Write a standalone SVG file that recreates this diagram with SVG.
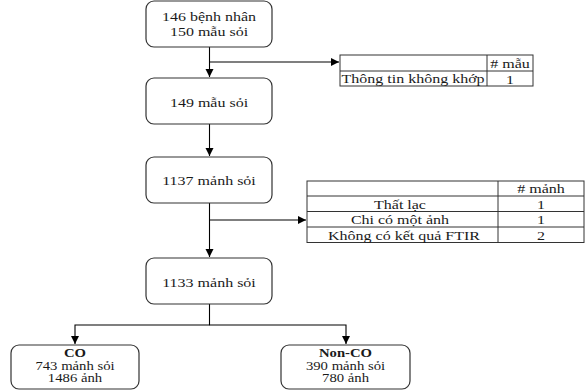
<svg xmlns="http://www.w3.org/2000/svg" width="585" height="392" viewBox="0 0 585 392">
<style>
.box{fill:#fff;stroke:#333;stroke-width:1.2}
.t{font-family:"Liberation Serif","Times New Roman",serif;font-size:16px;fill:#1a1a1a;text-anchor:middle}
.s{font-size:14.7px}
.b{font-weight:bold}
.l{text-anchor:start}
.c{fill:none;stroke:#000;stroke-width:1.1}
.g{fill:none;stroke:#333;stroke-width:1}
</style>
<defs>
<marker id="ah" markerUnits="userSpaceOnUse" markerWidth="10" markerHeight="10" refX="8" refY="4" orient="auto">
<path d="M0,0 L8,4 L0,8 Z" fill="#000"/>
</marker>
</defs>
<rect width="585" height="392" fill="#fff"/>
<g id="connectors">
<path class="c" d="M209.5,47 V77" marker-end="url(#ah)"/>
<path class="c" d="M209.5,62 H339" marker-end="url(#ah)"/>
<path class="c" d="M209.5,124 V156" marker-end="url(#ah)"/>
<path class="c" d="M209.5,203 V257" marker-end="url(#ah)"/>
<path class="c" d="M209.5,220 H306" marker-end="url(#ah)"/>
<path class="c" d="M209.5,304 V325 H75 V344" marker-end="url(#ah)"/>
<path class="c" d="M209.5,325 H346 V344" marker-end="url(#ah)"/>
</g>
<g id="n1">
<rect class="box" x="146" y="1" width="126" height="46" rx="8"/>
<text class="t" transform="translate(209,20.5) scale(1,0.72)">146 bệnh nhân</text>
<text class="t" transform="translate(209,36) scale(1,0.72)">150 mẫu sỏi</text>
</g>
<g id="n2">
<rect class="box" x="146" y="78" width="126" height="46" rx="8"/>
<text class="t" transform="translate(209,106.5) scale(1,0.72)">149 mẫu sỏi</text>
</g>
<g id="n3">
<rect class="box" x="146" y="157" width="126" height="46" rx="8"/>
<text class="t" transform="translate(209,184.5) scale(1,0.72)">1137 mảnh sỏi</text>
</g>
<g id="n4">
<rect class="box" x="146" y="258" width="126" height="46" rx="8"/>
<text class="t" transform="translate(209,287) scale(1,0.72)">1133 mảnh sỏi</text>
</g>
<g id="n5">
<rect class="box" x="11" y="345" width="128" height="44" rx="8"/>
<text class="t s b" transform="translate(75,357) scale(1,0.82)">CO</text>
<text class="t s" transform="translate(75,369.5) scale(1,0.82)">743 mảnh sỏi</text>
<text class="t s" transform="translate(75,382) scale(1,0.82)">1486 ảnh</text>
</g>
<g id="n6">
<rect class="box" x="281" y="345" width="129" height="44" rx="8"/>
<text class="t s b" transform="translate(345.5,357) scale(1,0.82)">Non-CO</text>
<text class="t s" transform="translate(345.5,369.5) scale(1,0.82)">390 mảnh sỏi</text>
<text class="t s" transform="translate(345.5,382) scale(1,0.82)">780 ảnh</text>
</g>
<g id="table1">
<rect class="g" x="340" y="55" width="193" height="31"/>
<path class="g" d="M340,71 H533 M487,55 V86"/>
<text class="t" transform="translate(510,68) scale(1,0.72)"># mẫu</text>
<text class="t l" transform="translate(341.5,83) scale(1,0.72)">Thông tin không khớp</text>
<text class="t" transform="translate(510,83.5) scale(1,0.72)">1</text>
</g>
<g id="table2">
<rect class="g" x="307" y="181" width="277" height="61.5"/>
<path class="g" d="M307,196 H584 M307,211.5 H584 M307,227 H584 M498,181 V242.5"/>
<text class="t" transform="translate(541,193) scale(1,0.72)"># mảnh</text>
<text class="t" transform="translate(400,208.5) scale(1,0.72)">Thất lạc</text>
<text class="t" transform="translate(541,208.5) scale(1,0.72)">1</text>
<text class="t" transform="translate(400,224) scale(1,0.72)">Chi có một ảnh</text>
<text class="t" transform="translate(541,224) scale(1,0.72)">1</text>
<text class="t" transform="translate(404,239.5) scale(1,0.72)">Không có kết quả FTIR</text>
<text class="t" transform="translate(541,239.5) scale(1,0.72)">2</text>
</g>
</svg>
